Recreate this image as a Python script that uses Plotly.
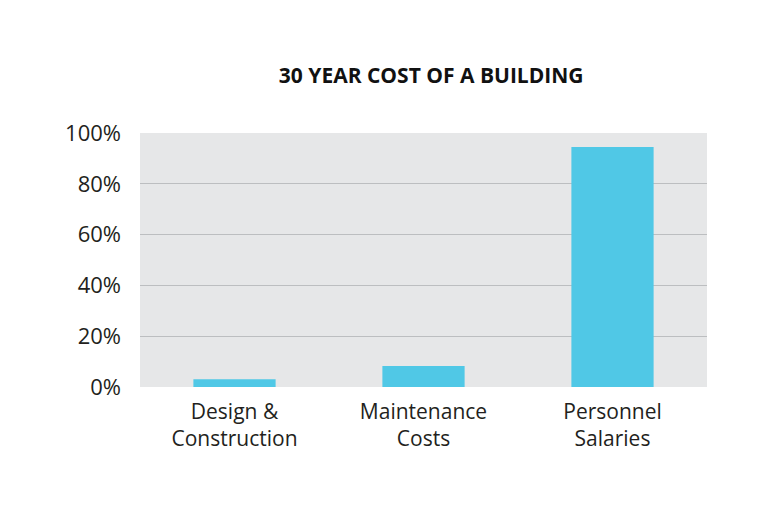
import plotly.graph_objects as go

categories = ["Design &<br>Construction", "Maintenance<br>Costs", "Personnel<br>Salaries"]
shares = [0.031, 0.083, 0.945]
tick_vals = [0, 0.2, 0.4, 0.6, 0.8, 1.0]
tick_text = ["0%", "20%", "40%", "60%", "80%", "100%"]

fig = go.Figure(
    go.Bar(x=categories, y=shares, marker=dict(color="#50c8e6", line=dict(width=0)))
)

fig.update_layout(
    width=768,
    height=512,
    paper_bgcolor="white",
    plot_bgcolor="#e6e7e8",
    bargap=0.565,
    showlegend=False,
    margin=dict(l=132, r=69, t=125, b=133),
    font=dict(family="Open Sans, Lato, sans-serif", color="#231f20", size=20),
    title=dict(
        text="<b>30 YEAR COST OF A BUILDING</b>",
        x=0.551,
        xanchor="center",
        y=0.868,
        yanchor="middle",
        font=dict(size=21, color="#111111"),
    ),
)
fig.update_yaxes(
    range=[0, 1.0],
    tickvals=tick_vals,
    ticktext=tick_text,
    gridcolor="#bcbec0",
    gridwidth=1,
    zeroline=False,
    ticks="",
    ticklabelstandoff=18,
    tickfont=dict(size=22),
)
fig.update_xaxes(ticks="", tickfont=dict(size=21), ticklabelstandoff=10)

fig.write_html("out.html")
